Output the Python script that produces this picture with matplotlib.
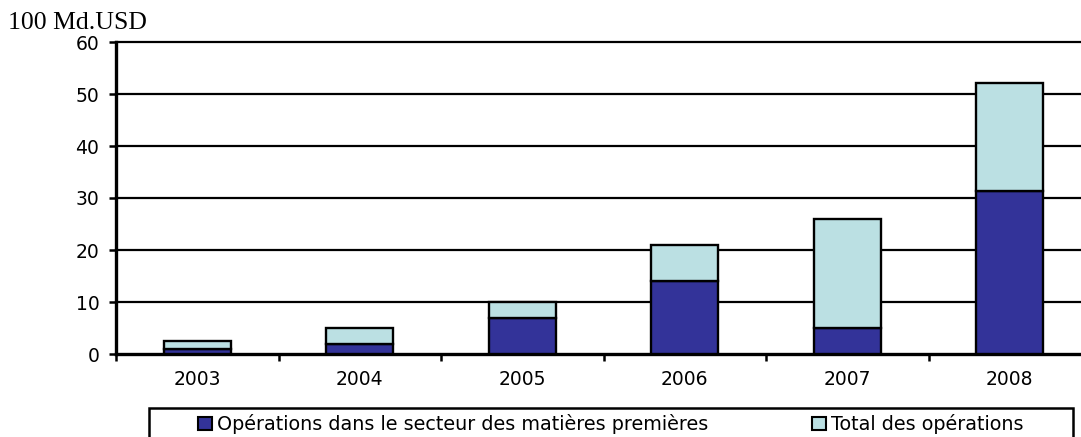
import matplotlib.pyplot as plt
import matplotlib.patches as mpatches
import numpy as np

years = ['2003', '2004', '2005', '2006', '2007', '2008']
matieres = [1.0, 2.0, 7.0, 14.0, 5.0, 31.3]
total = [2.5, 5.0, 10.0, 21.0, 26.0, 52.2]
reste = [t - m for t, m in zip(total, matieres)]

dark = '#333399'
light = '#bbe0e3'

fig = plt.figure(figsize=(10.81, 4.37), dpi=100)
ax = fig.add_axes([116 / 1081, 1 - 354 / 437, (1091 - 116) / 1081, (354 - 42) / 437])

x = np.arange(len(years))
ax.bar(x, matieres, width=0.41, color=dark, edgecolor='black', linewidth=1.7, zorder=3)
ax.bar(x, reste, bottom=matieres, width=0.41, color=light, edgecolor='black', linewidth=1.7, zorder=3)

ax.set_xlim(-0.5, len(years) - 0.5)
ax.set_ylim(0, 60)
ax.set_yticks(range(0, 61, 10))
for y in range(10, 61, 10):
    ax.axhline(y, color='black', linewidth=1.6, zorder=1, clip_on=False)

# ticks between categories, labels in the middle
ax.set_xticks(np.arange(-0.5, len(years), 1.0))
ax.set_xticklabels([])
ax.set_xticks(x, minor=True)
ax.set_xticklabels(years, minor=True)
ax.tick_params(axis='x', which='minor', length=0, pad=11.5, labelsize=13.5)
ax.tick_params(axis='x', which='major', length=5, width=1.8, direction='out')
ax.tick_params(axis='y', length=5, width=1.8, direction='out', labelsize=13.5, pad=7)

for side in ['top', 'right']:
    ax.spines[side].set_visible(False)
for side in ['left', 'bottom']:
    ax.spines[side].set_linewidth(2.4)

fig.text(8 / 1081, 1 - 29 / 437, '100 Md.USD', family='Liberation Serif', fontsize=18.5, va='baseline')

# legend frame (partly cut off at the bottom of the picture)
frame = mpatches.Rectangle((149 / 1081, -0.05), (1073 - 149) / 1081, 0.05 + (437 - 408) / 437,
                           transform=fig.transFigure, facecolor='white', edgecolor='black',
                           linewidth=1.8, clip_on=False)
fig.patches.append(frame)

h1 = mpatches.Patch(facecolor=dark, edgecolor='black', linewidth=1.5)
h2 = mpatches.Patch(facecolor=light, edgecolor='black', linewidth=1.5)
fig.legend([h1, h2], ['Opérations dans le secteur des matières premières', 'Total des opérations'],
           loc='upper left', bbox_to_anchor=(198 / 1081, 1 - 414 / 437), ncol=2, frameon=False,
           fontsize=13.8, handlelength=0.75, handleheight=0.7, handletextpad=0.26,
           columnspacing=5.38, borderpad=0, borderaxespad=0)

fig.savefig('out.png', dpi=100)
